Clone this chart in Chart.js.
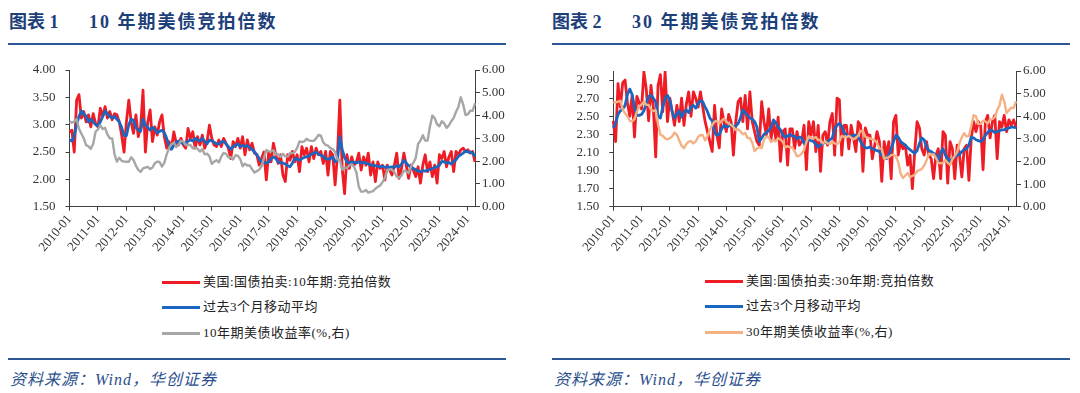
<!DOCTYPE html>
<html><head><meta charset="utf-8">
<script src="https://cdn.jsdelivr.net/npm/chart.js@4.4.1/dist/chart.umd.min.js"></script>
<style>
html,body{margin:0;padding:0;background:#fff;}
body{width:1080px;height:393px;position:relative;overflow:hidden;font-family:'Liberation Serif','Noto Sans CJK SC',serif;}
.title{position:absolute;top:10px;font-weight:700;font-size:18px;color:#1d3f7a;white-space:nowrap;line-height:24px;}
.rule{position:absolute;height:2px;background:#2b5797;}
.src{position:absolute;top:369px;font-style:italic;font-size:16px;color:#2b4f8c;white-space:nowrap;line-height:22px;letter-spacing:1px;}
.row{position:absolute;white-space:nowrap;height:16px;line-height:16px;font-size:13px;color:#222;letter-spacing:0.5px;}
.sw{display:inline-block;width:38px;height:3px;vertical-align:middle;margin-right:3px;position:relative;top:-1px;}
canvas{position:absolute;}
</style>
</head>
<body>
<div class="title" style="left:9px">图表 1</div>
<div class="title" style="left:89px;letter-spacing:2px">10 年期美债竞拍倍数</div>
<div class="rule" style="left:8px;top:43px;width:498px"></div>
<div class="title" style="left:552px">图表 2</div>
<div class="title" style="left:632px;letter-spacing:2px">30 年期美债竞拍倍数</div>
<div class="rule" style="left:552px;top:43px;width:518px"></div>

<canvas id="c1" width="540" height="220" style="left:0;top:50px"></canvas>
<canvas id="c2" width="535" height="220" style="left:545px;top:50px"></canvas>

<div class="row" style="left:162px;top:274px"><span class="sw" style="background:#ee1c25"></span>美国:国债拍卖:10年期:竞拍倍数</div>
<div class="row" style="left:162px;top:299px"><span class="sw" style="background:#1b66c0"></span>过去3个月移动平均</div>
<div class="row" style="left:162px;top:325px"><span class="sw" style="background:#a6a6a6"></span>10年期美债收益率(%,右)</div>

<div class="row" style="left:705px;top:273px"><span class="sw" style="background:#ee1c25"></span>美国:国债拍卖:30年期:竞拍倍数</div>
<div class="row" style="left:705px;top:298px"><span class="sw" style="background:#1b66c0"></span>过去3个月移动平均</div>
<div class="row" style="left:705px;top:324px"><span class="sw" style="background:#f4b183"></span>30年期美债收益率(%,右)</div>

<div class="rule" style="left:8px;top:358px;width:498px"></div>
<div class="src" style="left:10px">资料来源：Wind，华创证券</div>
<div class="rule" style="left:552px;top:358px;width:518px"></div>
<div class="src" style="left:554px">资料来源：Wind，华创证券</div>

<script>
// ---- categories: monthly, 2010-01 .. 2024-04 ----
const START_YEAR = 2010;
const N_MONTHS = 172;
const months = [];
for (let i = 0; i < N_MONTHS; i++) {
  const y = START_YEAR + Math.floor(i / 12), m = (i % 12) + 1;
  months.push(y + '-' + (m < 10 ? '0' + m : m));
}

// ---- 10Y auction bid-to-cover ----
const btc10 = [
2.87,2.90,2.50,3.45,3.55,3.12,3.24,3.05,3.18,2.96,3.20,3.02,
2.96,3.30,3.15,3.33,3.12,3.24,3.09,3.20,3.18,3.05,2.81,2.50,
3.05,3.45,3.05,2.84,3.18,2.78,2.96,3.63,2.50,3.05,3.27,2.69,
2.96,2.81,3.05,3.18,2.78,2.57,2.69,2.57,2.87,2.66,2.63,2.75,
2.63,2.57,2.93,2.75,2.87,2.57,2.78,2.63,2.81,2.57,2.69,2.99,
2.75,2.63,2.60,2.72,2.60,2.75,2.66,2.57,2.38,2.69,2.60,2.75,
2.57,2.78,2.45,2.72,2.54,2.66,2.48,2.45,2.26,2.38,2.50,1.99,
2.50,2.32,2.66,2.45,2.29,2.45,2.08,1.96,2.45,2.35,2.51,2.32,
2.45,2.14,2.60,2.45,2.57,2.32,2.60,2.38,2.57,2.45,2.51,2.29,
2.51,2.08,2.51,2.45,1.90,2.45,3.45,2.20,1.74,2.45,2.20,2.41,
2.26,2.32,2.48,2.17,2.41,2.26,2.48,2.08,2.32,1.96,2.32,2.20,
2.26,1.99,2.26,2.17,2.08,2.26,2.48,2.02,2.20,2.48,2.26,2.02,
2.26,2.17,2.05,2.23,1.93,2.26,2.45,2.14,2.32,2.05,2.26,1.93,
2.45,2.38,2.51,2.23,2.41,2.51,2.14,2.51,2.45,2.54,2.57,2.51,
2.54,2.48,2.51,2.32];
const ma10 = [
2.72,2.70,2.80,3.00,3.15,3.25,3.20,3.15,3.05,3.10,3.05,3.00,
2.98,3.05,3.15,3.25,3.20,3.15,3.12,3.15,3.10,3.05,2.95,2.80,
2.80,3.00,3.10,3.08,2.95,2.90,2.88,3.10,3.00,2.95,2.90,2.95,
2.92,2.85,2.88,2.90,2.85,2.75,2.60,2.55,2.62,2.68,2.70,2.68,
2.65,2.65,2.70,2.72,2.70,2.75,2.72,2.70,2.75,2.70,2.65,2.72,
2.70,2.68,2.65,2.65,2.68,2.70,2.65,2.60,2.55,2.60,2.62,2.65,
2.60,2.62,2.60,2.62,2.58,2.55,2.50,2.45,2.38,2.32,2.30,2.30,
2.32,2.38,2.41,2.38,2.32,2.30,2.30,2.28,2.25,2.23,2.30,2.38,
2.37,2.35,2.38,2.40,2.41,2.43,2.46,2.48,2.50,2.46,2.44,2.42,
2.38,2.37,2.38,2.41,2.32,2.35,2.78,2.55,2.40,2.32,2.30,2.32,
2.31,2.30,2.32,2.30,2.31,2.30,2.28,2.26,2.26,2.25,2.24,2.23,
2.24,2.22,2.23,2.22,2.23,2.22,2.25,2.23,2.28,2.35,2.30,2.25,
2.22,2.20,2.18,2.15,2.14,2.16,2.15,2.17,2.18,2.20,2.22,2.23,
2.26,2.33,2.32,2.30,2.31,2.28,2.32,2.36,2.42,2.45,2.48,2.52,
2.50,2.50,2.48,2.42];
const yld10 = [
3.73,3.69,3.73,3.85,3.42,3.20,3.01,2.70,2.65,2.54,2.76,3.29,
3.39,3.58,3.41,3.46,3.17,3.00,3.00,2.30,1.98,2.15,2.01,1.98,
1.97,1.97,2.17,2.05,1.80,1.62,1.53,1.68,1.72,1.75,1.65,1.72,
1.91,1.98,1.96,1.76,1.93,2.30,2.58,2.74,2.81,2.62,2.72,2.90,
2.86,2.71,2.72,2.71,2.56,2.60,2.54,2.42,2.53,2.30,2.33,2.21,
1.88,1.98,2.04,1.94,2.20,2.36,2.32,2.17,2.17,2.07,2.26,2.24,
2.09,1.78,1.89,1.81,1.81,1.64,1.50,1.56,1.63,1.76,2.14,2.49,
2.43,2.42,2.48,2.30,2.30,2.19,2.32,2.21,2.20,2.36,2.35,2.40,
2.58,2.86,2.84,2.87,2.98,2.91,2.89,2.89,3.00,3.15,3.12,2.83,
2.71,2.68,2.57,2.53,2.40,2.07,2.06,1.63,1.70,1.71,1.81,1.86,
1.76,1.50,0.87,0.66,0.67,0.73,0.62,0.65,0.68,0.79,0.87,0.93,
1.08,1.26,1.61,1.64,1.62,1.52,1.32,1.28,1.37,1.58,1.56,1.47,
1.76,1.93,2.13,2.75,2.90,3.14,2.90,2.90,3.52,4.00,3.89,3.62,
3.53,3.75,3.66,3.46,3.57,3.75,3.90,4.17,4.38,4.80,4.50,4.02,
4.06,4.21,4.21,4.54];

// ---- 30Y auction bid-to-cover ----
const btc30 = [
2.45,2.22,2.86,2.60,2.87,2.90,2.65,2.50,2.73,2.27,2.72,2.65,
2.58,2.99,2.80,2.45,2.84,2.60,2.05,2.84,2.96,2.55,2.99,2.44,
2.70,2.55,2.40,2.62,2.44,2.70,2.40,2.63,2.77,2.50,2.77,2.70,
2.60,2.77,2.60,2.44,2.33,2.22,2.11,2.62,2.29,2.15,2.58,2.44,
2.33,2.52,2.44,2.07,2.44,2.66,2.70,2.44,2.73,2.36,2.77,2.44,
2.33,2.22,2.18,2.66,2.44,2.29,2.58,2.25,2.44,2.25,2.49,2.00,
2.33,2.36,1.96,2.36,2.36,2.14,2.33,2.18,2.22,2.40,1.91,2.44,
2.29,2.44,2.11,2.40,1.89,2.29,2.33,2.18,2.44,2.53,2.07,2.70,
2.68,2.07,2.40,2.40,2.14,2.40,2.26,2.11,2.44,2.40,1.89,2.37,
2.29,2.29,2.03,2.18,2.33,2.22,1.78,2.22,2.07,2.22,1.81,2.44,
2.51,2.07,2.22,2.14,2.18,1.96,2.07,1.70,2.11,2.44,2.37,2.14,
2.07,2.22,2.07,2.03,1.81,2.07,2.14,1.81,2.33,2.29,1.76,2.22,
2.14,1.81,2.18,2.07,1.83,2.14,2.18,1.79,2.26,2.44,2.33,2.44,
2.40,1.91,2.44,2.51,2.26,2.44,2.51,2.03,2.44,2.38,2.51,2.33,
2.46,2.40,2.46,2.38];
const ma30 = [
2.37,2.42,2.52,2.56,2.58,2.62,2.74,2.80,2.74,2.60,2.51,2.51,
2.52,2.56,2.64,2.72,2.73,2.70,2.66,2.50,2.48,2.60,2.70,2.73,
2.68,2.55,2.48,2.52,2.56,2.49,2.54,2.57,2.54,2.60,2.62,2.59,
2.64,2.67,2.66,2.60,2.55,2.48,2.45,2.32,2.29,2.30,2.36,2.40,
2.38,2.39,2.41,2.38,2.39,2.42,2.48,2.57,2.54,2.51,2.48,2.47,
2.44,2.38,2.22,2.26,2.30,2.32,2.34,2.38,2.46,2.43,2.38,2.35,
2.29,2.27,2.28,2.30,2.28,2.28,2.25,2.27,2.26,2.20,2.22,2.24,
2.23,2.22,2.19,2.16,2.18,2.20,2.21,2.22,2.24,2.26,2.36,2.40,
2.42,2.39,2.32,2.30,2.27,2.28,2.29,2.29,2.27,2.22,2.18,2.15,
2.15,2.16,2.14,2.13,2.12,2.11,2.07,2.05,2.03,2.07,2.14,2.22,
2.29,2.27,2.22,2.20,2.18,2.15,2.13,2.11,2.09,2.12,2.20,2.26,
2.24,2.16,2.12,2.11,2.09,2.07,2.00,2.10,2.14,2.07,2.03,2.00,
2.03,2.05,2.07,2.08,2.11,2.13,2.14,2.18,2.27,2.26,2.24,2.23,
2.22,2.24,2.29,2.32,2.35,2.34,2.32,2.33,2.34,2.35,2.35,2.36,
2.37,2.38,2.38,2.37];
const yld30 = [
4.60,4.62,4.64,4.69,4.29,4.13,4.00,3.80,3.77,3.87,4.19,4.42,
4.52,4.65,4.51,4.50,4.29,4.23,4.27,3.65,3.18,3.13,3.02,2.98,
3.03,3.11,3.28,3.18,2.93,2.70,2.59,2.77,2.88,2.90,2.80,2.88,
3.08,3.17,3.16,2.93,3.11,3.40,3.61,3.76,3.79,3.68,3.80,3.89,
3.77,3.66,3.62,3.52,3.39,3.42,3.33,3.20,3.26,3.04,3.04,2.83,
2.46,2.57,2.63,2.59,2.96,3.11,3.07,2.86,2.95,2.89,3.03,2.97,
2.86,2.62,2.68,2.62,2.63,2.45,2.23,2.26,2.35,2.50,2.86,3.11,
3.02,3.03,3.08,2.94,2.96,2.80,2.88,2.80,2.78,2.88,2.80,2.77,
2.88,3.13,3.09,3.07,3.13,3.05,2.98,3.04,3.15,3.34,3.36,3.10,
3.04,3.02,2.98,2.94,2.82,2.57,2.57,2.12,2.16,2.19,2.28,2.30,
2.22,1.97,1.46,1.27,1.38,1.49,1.31,1.36,1.42,1.57,1.62,1.67,
1.82,2.04,2.34,2.30,2.32,2.16,1.94,1.92,1.94,2.06,1.94,1.85,
2.10,2.25,2.41,2.81,3.07,3.25,3.10,3.13,3.56,4.04,4.00,3.66,
3.66,3.80,3.77,3.68,3.86,3.87,3.96,4.28,4.47,4.95,4.66,4.14,
4.26,4.38,4.36,4.66];

// ---- axis tick values ----
const leftTicks10 = [1.5,2.0,2.5,3.0,3.5,4.0];
const leftTicks30 = [1.5,1.7,1.9,2.1,2.3,2.5,2.7,2.9];
const rightTicks = [0,1,2,3,4,5,6];

const RED = '#ee1c25', BLUE = '#1b66c0', GREY = '#a6a6a6', ORANGE = '#f4b183';
const AXIS = '#404040';
const tickFont = {family: "'Liberation Serif','Times New Roman',serif", size: 13};

function makeChart(id, red, blue, yld, yldColor, leftTicks, leftMin, leftMax, geo) {
  const ctx = document.getElementById(id);
  return new Chart(ctx, {
    type: 'line',
    data: {
      labels: months,
      datasets: [
        {data: yld, borderColor: yldColor, borderWidth: 2.4, yAxisID: 'y1', order: 0},
        {data: blue, borderColor: BLUE, borderWidth: 2.8, yAxisID: 'y', order: 1},
        {data: red, borderColor: RED, borderWidth: 2.8, yAxisID: 'y', order: 2}
      ]
    },
    options: {
      responsive: false,
      animation: false,
      devicePixelRatio: 1,
      elements: {point: {radius: 0}, line: {tension: 0, borderJoinStyle: 'round'}},
      layout: {padding: {top: geo.top, left: 0, right: 0, bottom: 0}},
      plugins: {legend: {display: false}, tooltip: {enabled: false}},
      scales: {
        x: {
          type: 'category',
          afterBuildTicks: s => { s.ticks = s.ticks.filter(t => months[t.value].endsWith('-01')); },
          afterFit: s => { s.height = geo.xh; },
          grid: {display: true, drawOnChartArea: false, drawTicks: true, tickLength: 4, color: AXIS},
          border: {display: true, color: AXIS, width: 1},
          ticks: {autoSkip: false, maxRotation: 50, minRotation: 50, padding: 1, font: tickFont, color: '#333',
                  callback: function(v) { return this.getLabelForValue(v); }}
        },
        y: {
          position: 'left', min: leftMin, max: leftMax,
          afterBuildTicks: s => { s.ticks = leftTicks.map(v => ({value: v})); },
          afterFit: s => { s.width = geo.lw; },
          grid: {display: true, drawOnChartArea: false, tickLength: 4, color: AXIS},
          border: {display: true, color: AXIS, width: 1},
          ticks: {padding: 10, font: tickFont, color: '#333', callback: v => Number(v).toFixed(2)}
        },
        y1: {
          position: 'right', min: 0, max: 6,
          afterBuildTicks: s => { s.ticks = rightTicks.map(v => ({value: v})); },
          afterFit: s => { s.width = geo.rw; },
          grid: {display: true, drawOnChartArea: false, tickLength: 5, color: AXIS},
          border: {display: true, color: AXIS, width: 1},
          ticks: {padding: 2, font: tickFont, color: '#333', callback: v => Number(v).toFixed(2)}
        }
      }
    }
  });
}

makeChart('c1', btc10, ma10, yld10, GREY, leftTicks10, 1.5, 4.0, {top: 20, xh: 63.3, lw: 69.5, rw: 65});
makeChart('c2', btc30, ma30, yld30, ORANGE, leftTicks30, 1.5, 3.0, {top: 21, xh: 63.3, lw: 68.3, rw: 64});
</script>
</body></html>
